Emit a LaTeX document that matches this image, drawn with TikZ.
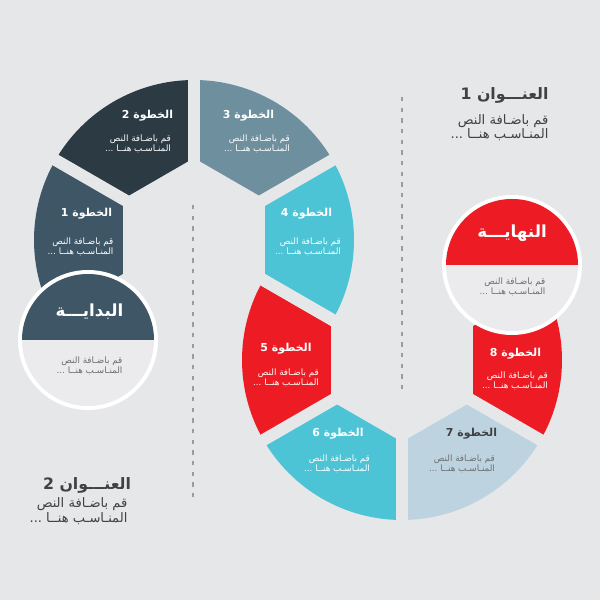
\documentclass[tikz,border=0pt]{standalone}
\usepackage{fontspec}
\usepackage{tikz}
\usetikzlibrary{calc}
\TeXXeTstate=1
\newfontfamily\arabicfont[Script=Arabic]{DejaVu Sans}

\definecolor{bggray}{HTML}{E6E7E9}
\definecolor{lightgray}{HTML}{EBEBED}
\definecolor{darknavy}{HTML}{2C3A44}
\definecolor{slate}{HTML}{3F5666}
\definecolor{steel}{HTML}{6E8F9E}
\definecolor{aqua}{HTML}{4CC4D6}
\definecolor{brightred}{HTML}{ED1C24}
\definecolor{paleblue}{HTML}{BDD4E0}
\definecolor{inkgray}{HTML}{414042}
\definecolor{midgray}{HTML}{6D6E71}
\definecolor{dashgray}{HTML}{9A9B9D}

\begin{document}
\begin{tikzpicture}[x=0.75pt, y=0.75pt,
  every node/.style={inner sep=0, outer sep=0},
  steptitle/.style={font=\arabicfont\bfseries\fontsize{8.2}{9}\selectfont, text=white},
  stepbody/.style={font=\arabicfont\fontsize{6.6}{7.5}\selectfont, text=white, align=right},
  bigtitle/.style={font=\arabicfont\bfseries\fontsize{12.5}{14}\selectfont, text=white},
  headtitle/.style={font=\arabicfont\bfseries\fontsize{11.8}{13}\selectfont, text=inkgray},
  headbody/.style={font=\arabicfont\fontsize{9.8}{11}\selectfont, text=inkgray, align=right},
  gap/.style={bggray, line width=9pt},
  divider/.style={dashgray, line width=1.5pt, dash pattern=on 3.2pt off 4.8pt}]

\fill[bggray] (0,0) rectangle (600,600);
\useasboundingbox (0,0) rectangle (600,600);

\coordinate (upper) at (194,360);
\coordinate (lower) at (402,240);
\coordinate (start) at (88,260);
\coordinate (finish) at (512,335);

% upper ring
\fill[slate] ($(upper)+(150:82)$) -- ($(upper)+(150:160)$) arc[start angle=150, end angle=210, radius=160] -- ($(upper)+(210:82)$) -- cycle;
\fill[darknavy] ($(upper)+(90:82)$) -- ($(upper)+(90:160)$) arc[start angle=90, end angle=150, radius=160] -- ($(upper)+(150:82)$) -- cycle;
\fill[steel] ($(upper)+(30:82)$) -- ($(upper)+(30:160)$) arc[start angle=30, end angle=90, radius=160] -- ($(upper)+(90:82)$) -- cycle;
\fill[aqua] ($(upper)+(-30:82)$) -- ($(upper)+(-30:160)$) arc[start angle=-30, end angle=30, radius=160] -- ($(upper)+(30:82)$) -- cycle;

% lower ring
\fill[brightred] ($(lower)+(150:82)$) -- ($(lower)+(150:160)$) arc[start angle=150, end angle=210, radius=160] -- ($(lower)+(210:82)$) -- cycle;
\fill[aqua] ($(lower)+(210:82)$) -- ($(lower)+(210:160)$) arc[start angle=210, end angle=270, radius=160] -- ($(lower)+(270:82)$) -- cycle;
\fill[paleblue] ($(lower)+(270:82)$) -- ($(lower)+(270:160)$) arc[start angle=270, end angle=330, radius=160] -- ($(lower)+(330:82)$) -- cycle;
\fill[brightred] ($(lower)+(330:82)$) -- ($(lower)+(330:160)$) arc[start angle=330, end angle=390, radius=160] -- ($(lower)+(390:82)$) -- cycle;

% gaps between the segments
\draw[gap] (upper) -- ++(-30:175);
\draw[gap] (upper) -- ++(30:175);
\draw[gap] (upper) -- ++(90:175);
\draw[gap] (upper) -- ++(150:175);
\draw[gap] (upper) -- ++(210:175);
\draw[gap] (lower) -- ++(150:175);
\draw[gap] (lower) -- ++(210:175);
\draw[gap] (lower) -- ++(270:175);
\draw[gap] (lower) -- ++(330:175);
\draw[gap] (lower) -- ++(30:175);

% dashed dividers
\coordinate (leftdashtop) at (193,395);
\coordinate (leftdashend) at (193,97);
\coordinate (rightdashtop) at (402,503);
\coordinate (rightdashend) at (402,205);
\draw[divider] (leftdashtop) -- (leftdashend);
\draw[divider] (rightdashtop) -- (rightdashend);

% start and end circles
\fill[white] (start) circle[radius=70];
\fill[lightgray] (start) circle[radius=66];
\fill[slate] ($(start)+(-66,0)$) arc[start angle=180, end angle=0, radius=66] -- cycle;
\fill[white] (finish) circle[radius=70];
\fill[lightgray] (finish) circle[radius=66];
\fill[brightred] ($(finish)+(-66,0)$) arc[start angle=180, end angle=0, radius=66] -- cycle;

% step labels
\node[steptitle] (s1) at (86.5,386) {\beginR الخطوة 1\endR};
\node[stepbody] (s1body) at (80.5,353) {\beginR قم باضـافة النص\endR\\\beginR المنـاسـب هنــا ...\endR};
\node[steptitle] (s2) at (147.5,484) {\beginR الخطوة 2\endR};
\node[stepbody] (s2body) at (138,456) {\beginR قم باضـافة النص\endR\\\beginR المنـاسـب هنــا ...\endR};
\node[steptitle] (s3) at (248.5,484) {\beginR الخطوة 3\endR};
\node[stepbody] (s3body) at (257,456) {\beginR قم باضـافة النص\endR\\\beginR المنـاسـب هنــا ...\endR};
\node[steptitle] (s4) at (306.5,386) {\beginR الخطوة 4\endR};
\node[stepbody] (s4body) at (308,353) {\beginR قم باضـافة النص\endR\\\beginR المنـاسـب هنــا ...\endR};
\node[steptitle] (s5) at (286,251) {\beginR الخطوة 5\endR};
\node[stepbody] (s5body) at (286,222) {\beginR قم باضـافة النص\endR\\\beginR المنـاسـب هنــا ...\endR};
\node[steptitle] (s6) at (338,166) {\beginR الخطوة 6\endR};
\node[stepbody] (s6body) at (337,136) {\beginR قم باضـافة النص\endR\\\beginR المنـاسـب هنــا ...\endR};
\node[steptitle, text=inkgray] (s7) at (471.5,166) {\beginR الخطوة 7\endR};
\node[stepbody, text=midgray] (s7body) at (462,136) {\beginR قم باضـافة النص\endR\\\beginR المنـاسـب هنــا ...\endR};
\node[steptitle] (s8) at (515.5,246) {\beginR الخطوة 8\endR};
\node[stepbody] (s8body) at (515,219) {\beginR قم باضـافة النص\endR\\\beginR المنـاسـب هنــا ...\endR};

% circle labels
\node[bigtitle] (begin) at (89.5,288) {\beginR البدايـــة\endR};
\node[stepbody, text=midgray] (beginbody) at (89.5,234.5) {\beginR قم باضـافة النص\endR\\\beginR المنـاسـب هنــا ...\endR};
\node[bigtitle] (end) at (512,367) {\beginR النهايـــة\endR};
\node[stepbody, text=midgray] (endbody) at (512.5,313) {\beginR قم باضـافة النص\endR\\\beginR المنـاسـب هنــا ...\endR};

% headings
\node[headtitle] (head1) at (504.5,505) {\beginR العنـــوان 1\endR};
\node[headbody] (head1body) at (499.5,472.5) {\beginR قم باضـافة النص\endR\\\beginR المنـاسـب هنــا ...\endR};
\node[headtitle] (head2) at (87,115) {\beginR العنـــوان 2\endR};
\node[headbody] (head2body) at (78.5,89) {\beginR قم باضـافة النص\endR\\\beginR المنـاسـب هنــا ...\endR};

\end{tikzpicture}
\end{document}
